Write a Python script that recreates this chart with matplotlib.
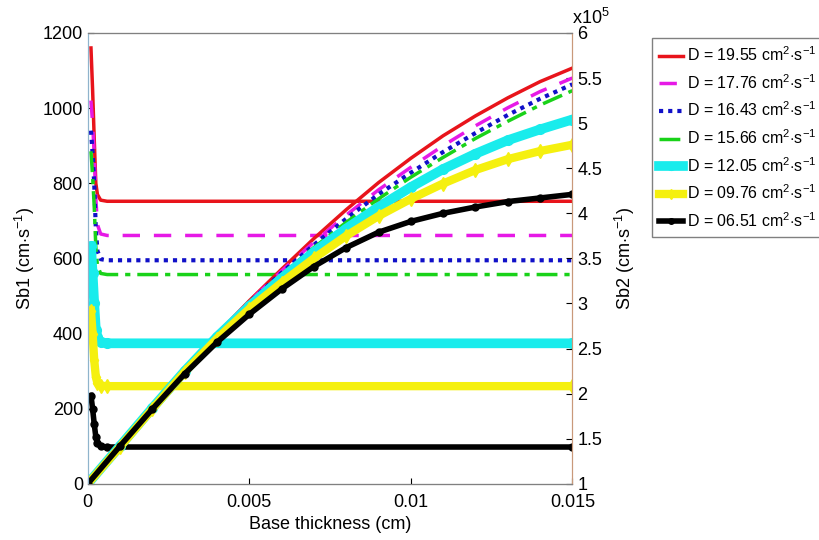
import matplotlib
matplotlib.use("Agg")
import matplotlib.pyplot as plt

plt.rcParams['font.family'] = ['Liberation Sans', 'DejaVu Sans']
plt.rcParams['mathtext.fontset'] = 'custom'
plt.rcParams['mathtext.rm'] = 'Liberation Sans'
plt.rcParams['mathtext.it'] = 'Liberation Sans:italic'

# diffusion coefficients (cm2/s)
labels = ['19.55', '17.76', '16.43', '15.66', '12.05', '09.76', '06.51']

# Sb1 (cm/s) vs base thickness: sharp spike near zero then plateau
x1 = [0.0001, 0.00015, 0.0002, 0.00025, 0.0003, 0.0004, 0.0006, 0.015]
sb1 = [
    [1160, 1050, 920, 800, 770, 755, 752, 752],
    [1020, 960, 880, 760, 690, 665, 661, 661],
    [940, 880, 800, 680, 620, 598, 595, 595],
    [885, 820, 740, 630, 580, 560, 557, 557],
    [632, 560, 480, 410, 390, 377, 374, 374],
    [461, 400, 330, 285, 268, 261, 260, 260],
    [235, 200, 160, 125, 108, 100, 98, 98],
]

# Sb2 (x1e5 cm/s) vs base thickness
x2 = [0, 0.001, 0.002, 0.003, 0.004, 0.005, 0.006, 0.007, 0.008,
      0.009, 0.010, 0.011, 0.012, 0.013, 0.014, 0.015]
sb2 = [
    [1.0, 1.43, 1.86, 2.27, 2.66, 3.03, 3.38, 3.72, 4.04, 4.34, 4.61, 4.86, 5.08, 5.28, 5.46, 5.61],
    [1.0, 1.43, 1.86, 2.27, 2.66, 3.02, 3.36, 3.68, 3.98, 4.26, 4.51, 4.75, 4.97, 5.17, 5.35, 5.50],
    [1.0, 1.43, 1.86, 2.27, 2.65, 3.01, 3.34, 3.65, 3.94, 4.21, 4.45, 4.68, 4.89, 5.09, 5.27, 5.43],
    [1.0, 1.43, 1.86, 2.27, 2.65, 3.00, 3.32, 3.62, 3.90, 4.16, 4.40, 4.62, 4.83, 5.02, 5.20, 5.36],
    [1.0, 1.42, 1.84, 2.25, 2.63, 2.97, 3.28, 3.57, 3.83, 4.07, 4.29, 4.49, 4.66, 4.81, 4.93, 5.04],
    [1.0, 1.41, 1.83, 2.24, 2.61, 2.94, 3.23, 3.50, 3.75, 3.97, 4.16, 4.33, 4.48, 4.60, 4.69, 4.76],
    [1.0, 1.42, 1.83, 2.22, 2.57, 2.88, 3.16, 3.41, 3.62, 3.79, 3.91, 4.00, 4.07, 4.13, 4.17, 4.21],
]

styles = [
    dict(color='#e8141b', ls='-', lw=2.5),
    dict(color='#e619e6', ls=(0, (5, 4)), lw=2.5),
    dict(color='#1010c8', ls=(0, (1, 1.2)), lw=3),
    dict(color='#19d219', ls=(0, (6, 2, 1.5, 2)), lw=2.5),
    dict(color='#19ecec', ls='-', lw=7, marker='o', ms=7),
    dict(color='#f5f00f', ls='-', lw=6, marker='d', ms=7),
    dict(color='#000000', ls='-', lw=4, marker='o', ms=5),
]

fig = plt.figure(figsize=(8.2, 5.4), dpi=100)
ax1 = fig.add_axes([0.107, 0.104, 0.591, 0.835])
ax2 = ax1.twinx()

handles = []
for lab, y1, y2, st in zip(labels, sb1, sb2, styles):
    h, = ax1.plot(x1, y1, **st, label='D = %s cm$^2$$\\cdot$s$^{-1}$' % lab)
    ax2.plot(x2, y2, **st)
    handles.append(h)

ax1.set_xlim(0, 0.015)
ax1.set_ylim(0, 1200)
ax2.set_ylim(1, 6)
ax1.set_xticks([0, 0.005, 0.01, 0.015])
ax1.set_xticklabels(['0', '0.005', '0.01', '0.015'])
ax1.set_yticks(range(0, 1201, 200))
ax2.set_yticks([1, 1.5, 2, 2.5, 3, 3.5, 4, 4.5, 5, 5.5, 6])
ax2.set_yticklabels(['1', '1.5', '2', '2.5', '3', '3.5', '4', '4.5', '5', '5.5', '6'])

for ax in (ax1, ax2):
    ax.tick_params(direction='in', labelsize=13, length=4)
ax1.tick_params(axis='x', pad=7)
ax1.set_xlabel('Base thickness (cm)', fontsize=13)
ax1.set_ylabel('Sb1 (cm$\\cdot$s$^{-1}$)', fontsize=13)
ax2.set_ylabel('Sb2 (cm$\\cdot$s$^{-1}$)', fontsize=13, labelpad=8)
ax2.text(1.0, 1.012, 'x10$^5$', transform=ax2.transAxes, fontsize=13,
         ha='left', va='bottom')

ax1.spines['left'].set_color('#8fb4cc')
ax2.spines['left'].set_color('#8fb4cc')
ax2.spines['right'].set_color('#c9997a')
ax1.spines['right'].set_color('#c9997a')
for sp in ('top', 'bottom'):
    ax2.spines[sp].set_color('#808080')

leg = fig.legend(handles=handles, loc='upper left', bbox_to_anchor=(0.791, 0.935),
                 fontsize=11.5, handlelength=1.5, handletextpad=0.25,
                 labelspacing=0.56, borderpad=0.45, borderaxespad=0.2,
                 fancybox=False, framealpha=1, edgecolor='#808080',
                 markerscale=0.8)
leg.get_frame().set_linewidth(1)

fig.savefig('out.png', dpi=100)
